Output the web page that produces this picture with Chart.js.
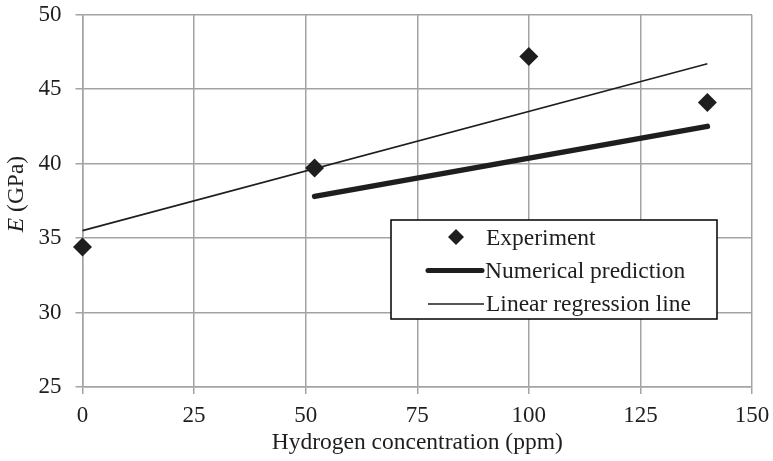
<!DOCTYPE html>
<html>
<head>
<meta charset="utf-8">
<script src="https://cdn.jsdelivr.net/npm/chart.js@4/dist/chart.umd.min.js"></script>
<style>
html,body{margin:0;padding:0;background:#fff;}
#wrap{position:relative;width:773px;height:461px;}
</style>
</head>
<body>
<div id="wrap"><canvas id="c" width="773" height="461"></canvas></div>
<script>
// ---- data ----
const expX = [0, 52, 100, 140];
const expY = [34.4, 39.7, 47.2, 44.1];
const numX = [52, 140];
const numY = [37.8, 42.5];
const regX = [0, 140];
const regY = [35.5, 46.7];
const xTicks = [0, 25, 50, 75, 100, 125, 150];
const yTicks = [25, 30, 35, 40, 45, 50];
const seriesNames = ['Experiment', 'Numerical prediction', 'Linear regression line'];
const xTitle = 'Hydrogen concentration (ppm)';
const yTitleItalic = 'E';
const yTitleRest = ' (GPa)';

const toPts = (xs, ys) => xs.map((x, i) => ({x: x, y: ys[i]}));
const FONT = '"Liberation Serif", "Times New Roman", serif';
const INK = '#1e1e1e';
const GRID = '#a3a3a3';

const overlay = {
  id: 'overlay',
  afterDraw(chart) {
    const ctx = chart.ctx;
    const ca = chart.chartArea;
    ctx.save();
    // x title
    ctx.fillStyle = INK;
    ctx.font = '23.5px ' + FONT;
    ctx.textAlign = 'center';
    ctx.textBaseline = 'alphabetic';
    ctx.fillText(xTitle, (ca.left + ca.right) / 2, 449);
    // y title (rotated, italic E)
    ctx.translate(23, 194);
    ctx.rotate(-Math.PI / 2);
    ctx.font = 'italic 23.5px ' + FONT;
    const w1 = ctx.measureText(yTitleItalic).width;
    ctx.font = '23.5px ' + FONT;
    const w2 = ctx.measureText(yTitleRest).width;
    const start = -(w1 + w2) / 2;
    ctx.textAlign = 'left';
    ctx.font = 'italic 23.5px ' + FONT;
    ctx.fillText(yTitleItalic, start, 0);
    ctx.font = '23.5px ' + FONT;
    ctx.fillText(yTitleRest, start + w1, 0);
    ctx.restore();

    // legend box
    ctx.save();
    const bx = 391, by = 220, bw = 326, bh = 99;
    ctx.fillStyle = '#fff';
    ctx.fillRect(bx, by, bw, bh);
    ctx.strokeStyle = '#000';
    ctx.lineWidth = 1.5;
    ctx.strokeRect(bx, by, bw, bh);
    const rows = [237, 270.5, 304];
    // diamond
    const dx = 456, dr = 8;
    ctx.fillStyle = INK;
    ctx.beginPath();
    ctx.moveTo(dx - dr, rows[0]);
    ctx.lineTo(dx, rows[0] - dr);
    ctx.lineTo(dx + dr, rows[0]);
    ctx.lineTo(dx, rows[0] + dr);
    ctx.closePath();
    ctx.fill();
    // thick line
    ctx.strokeStyle = INK;
    ctx.lineCap = 'round';
    ctx.lineWidth = 5;
    ctx.beginPath();
    ctx.moveTo(428, rows[1]);
    ctx.lineTo(482, rows[1]);
    ctx.stroke();
    // thin line
    ctx.lineCap = 'butt';
    ctx.lineWidth = 1.5;
    ctx.beginPath();
    ctx.moveTo(428, rows[2]);
    ctx.lineTo(484, rows[2]);
    ctx.stroke();
    // labels
    ctx.fillStyle = INK;
    ctx.font = '23.5px ' + FONT;
    ctx.textAlign = 'left';
    ctx.textBaseline = 'alphabetic';
    ctx.fillText(seriesNames[0], 486, 245);
    ctx.fillText(seriesNames[1], 485, 278);
    ctx.fillText(seriesNames[2], 486, 311);
    ctx.restore();
  }
};

new Chart(document.getElementById('c'), {
  type: 'scatter',
  data: {
    datasets: [
      {
        label: seriesNames[1],
        data: toPts(numX, numY),
        showLine: true,
        borderColor: INK,
        borderWidth: 5.5,
        borderCapStyle: 'round',
        pointRadius: 0,
        clip: false,
        order: 2
      },
      {
        label: seriesNames[2],
        data: toPts(regX, regY),
        showLine: true,
        borderColor: INK,
        borderWidth: 1.6,
        pointRadius: 0,
        clip: false,
        order: 3
      },
      {
        label: seriesNames[0],
        data: toPts(expX, expY),
        showLine: false,
        pointStyle: 'rectRot',
        pointRadius: 9.5,
        backgroundColor: INK,
        borderColor: INK,
        borderWidth: 0,
        clip: false,
        order: 1
      }
    ]
  },
  options: {
    responsive: false,
    animation: false,
    devicePixelRatio: 1,
    layout: { padding: { top: 14.7, right: 21, left: 0, bottom: 0 } },
    plugins: { legend: { display: false }, tooltip: { enabled: false } },
    scales: {
      x: {
        type: 'linear',
        min: 0, max: 150,
        afterBuildTicks: (s) => { s.ticks = xTicks.map(v => ({value: v})); },
        afterFit: (s) => { s.height = 74; s.paddingLeft = 0; s.paddingRight = 0; s.paddingTop = 0; s.paddingBottom = 0; },
        ticks: { font: { family: FONT, size: 23 }, color: INK, padding: 8, maxRotation: 0 },
        grid: { color: GRID, lineWidth: 1.5, tickLength: 7 },
        border: { color: GRID, width: 1.5 }
      },
      y: {
        type: 'linear',
        min: 25, max: 50,
        afterBuildTicks: (s) => { s.ticks = yTicks.map(v => ({value: v})); },
        afterFit: (s) => { s.width = 82.5; s.paddingLeft = 0; s.paddingRight = 0; s.paddingTop = 0; s.paddingBottom = 0; },
        ticks: { font: { family: FONT, size: 23 }, color: INK, padding: 14 },
        grid: { color: GRID, lineWidth: 1.5, tickLength: 7 },
        border: { color: GRID, width: 1.5 }
      }
    }
  },
  plugins: [overlay]
});
</script>
</body>
</html>
